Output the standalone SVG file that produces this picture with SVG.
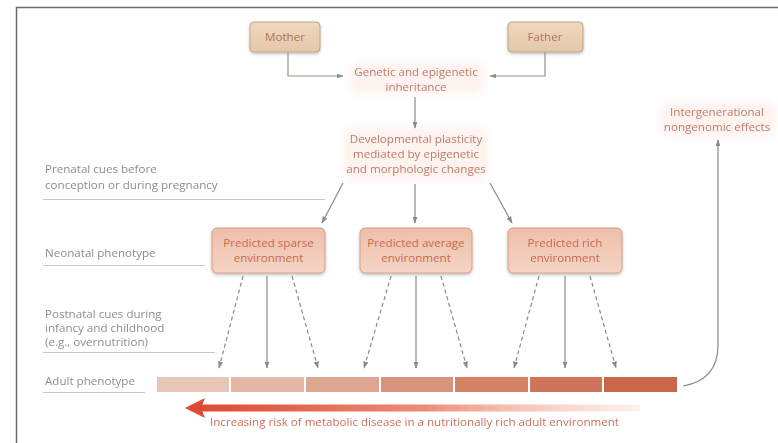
<svg xmlns="http://www.w3.org/2000/svg" width="778" height="443" viewBox="0 0 778 443">
<defs>
<linearGradient id="gParent" x1="0" y1="0" x2="0" y2="1"><stop offset="0" stop-color="#efd8bc"/><stop offset="1" stop-color="#e4c8a8"/></linearGradient>
<linearGradient id="gEnv" x1="0" y1="0" x2="0" y2="1"><stop offset="0" stop-color="#eebfaa"/><stop offset="1" stop-color="#f5d4c4"/></linearGradient>
<linearGradient id="gRisk" x1="0" y1="0" x2="1" y2="0"><stop offset="0" stop-color="#de4a34"/><stop offset="0.5" stop-color="#ec8a76"/><stop offset="1" stop-color="#fbe3dc" stop-opacity="0.5"/></linearGradient>
<filter id="sh" x="-20%" y="-20%" width="140%" height="150%"><feDropShadow dx="0" dy="1.5" stdDeviation="1.5" flood-color="#000" flood-opacity="0.25"/></filter>
<filter id="glow" x="-20%" y="-40%" width="140%" height="180%"><feGaussianBlur stdDeviation="4"/></filter>
<marker id="ah" viewBox="0 0 10 10" refX="9" refY="5" markerWidth="6" markerHeight="6" orient="auto-start-reverse"><path d="M0,1.5 L10,5 L0,8.5 Z" fill="#8a8a8a"/></marker>
<marker id="ahg" viewBox="0 0 10 10" refX="9" refY="5" markerWidth="6" markerHeight="6" orient="auto"><path d="M0,1.5 L10,5 L0,8.5 Z" fill="#8a9a80"/></marker>
</defs>
<style>
text{font-family:"Open Sans","DejaVu Sans",sans-serif;font-size:11.6px;}
.lbl{fill:#8e8e8e;}
.mid{fill:#c27a6c;text-anchor:middle;}
.pt{fill:#b3725f;text-anchor:middle;}
.et{fill:#c86a50;text-anchor:middle;}
.ul{stroke:#c8c8c8;stroke-width:1;}
.ln{stroke:#8a8a8a;stroke-width:1.2;fill:none;}
.dash{stroke-dasharray:4,3;}
.pg{stroke:#8a9a80;stroke-width:1.2;fill:none;}
.pbox{fill:url(#gParent);stroke:#b9a78f;stroke-width:1;}
.ebox{fill:url(#gEnv);stroke:#d59c86;stroke-width:1;}
.halo{fill:#fcebe5;opacity:0.6;}
</style>
<rect x="0" y="0" width="778" height="443" fill="#ffffff"/>
<path d="M16.5,443 V7.5 H778" fill="none" stroke="#6a6a6a" stroke-width="1.5"/>

<g id="halos" filter="url(#glow)">
<rect class="halo" x="350" y="62" width="134" height="32" rx="8"/>
<rect class="halo" x="343" y="128" width="146" height="52" rx="8"/>
<rect class="halo" x="660" y="102" width="116" height="34" rx="8"/>
</g>

<g id="mother"><rect class="pbox" x="250" y="22" width="70" height="30" rx="4" filter="url(#sh)"/><text class="pt" x="285" y="41">Mother</text></g>
<g id="father"><rect class="pbox" x="508" y="22" width="75" height="30" rx="4" filter="url(#sh)"/><text class="pt" x="545" y="41">Father</text></g>

<g id="inheritance"><text class="mid" x="416" y="76">Genetic and epigenetic</text><text class="mid" x="416" y="91">inheritance</text></g>
<g id="plasticity"><text class="mid" x="416" y="143">Developmental plasticity</text><text class="mid" x="416" y="158">mediated by epigenetic</text><text class="mid" x="416" y="173">and morphologic changes</text></g>
<g id="intergen"><text class="mid" x="717" y="116">Intergenerational</text><text class="mid" x="717" y="131">nongenomic effects</text></g>

<g id="sparse"><rect class="ebox" x="212" y="228" width="113" height="45" rx="5" filter="url(#sh)"/><text class="et" x="268.5" y="247">Predicted sparse</text><text class="et" x="268.5" y="262">environment</text></g>
<g id="average"><rect class="ebox" x="360" y="228" width="112" height="45" rx="5" filter="url(#sh)"/><text class="et" x="416" y="247">Predicted average</text><text class="et" x="416" y="262">environment</text></g>
<g id="rich"><rect class="ebox" x="508" y="228" width="114" height="45" rx="5" filter="url(#sh)"/><text class="et" x="565" y="247">Predicted rich</text><text class="et" x="565" y="262">environment</text></g>

<g id="labels">
<text class="lbl" x="45" y="173">Prenatal cues before</text>
<text class="lbl" x="45" y="189">conception or during pregnancy</text>
<line class="ul" x1="43" y1="199.5" x2="325" y2="199.5"/>
<text class="lbl" x="45" y="257">Neonatal phenotype</text>
<line class="ul" x1="43" y1="265.5" x2="205" y2="265.5"/>
<text class="lbl" x="45" y="318">Postnatal cues during</text>
<text class="lbl" x="45" y="332">infancy and childhood</text>
<text class="lbl" x="45" y="346">(e.g., overnutrition)</text>
<line class="ul" x1="43" y1="352.5" x2="215" y2="352.5"/>
<text class="lbl" x="45" y="385">Adult phenotype</text>
<line class="ul" x1="43" y1="392.5" x2="145" y2="392.5"/>
</g>

<g id="adult-bar">
<rect x="157" y="377" width="72" height="15" fill="#e9c7b8"/>
<rect x="231" y="377" width="73" height="15" fill="#e4b7a5"/>
<rect x="306" y="377" width="73" height="15" fill="#dea591"/>
<rect x="381" y="377" width="72" height="15" fill="#d8937c"/>
<rect x="455" y="377" width="73" height="15" fill="#d48369"/>
<rect x="530" y="377" width="72" height="15" fill="#cf7559"/>
<rect x="604" y="377" width="73" height="15" fill="#c9674a"/>
</g>

<g id="risk">
<path d="M200,404.5 H640 V411.5 H200 Z" fill="url(#gRisk)"/>
<path d="M185,408 L205,398 L201,408 L205,418 Z" fill="#de4a34"/>
<text x="210" y="426" fill="#d0705a">Increasing risk of metabolic disease in a nutritionally rich adult environment</text>
</g>

<g id="connectors">
<path class="pg" d="M288,52 V76 H343" marker-end="url(#ahg)"/>
<path class="pg" d="M545,52 V76 H490" marker-end="url(#ahg)"/>
<line class="ln" x1="415" y1="97" x2="415" y2="128" marker-end="url(#ah)"/>
<line class="ln" x1="343" y1="183" x2="322" y2="223" marker-end="url(#ah)"/>
<line class="ln" x1="415" y1="184" x2="415" y2="223" marker-end="url(#ah)"/>
<line class="ln" x1="490" y1="183" x2="512" y2="223" marker-end="url(#ah)"/>

<line class="ln dash" x1="243" y1="276" x2="219" y2="368" marker-end="url(#ah)"/>
<line class="ln" x1="267" y1="276" x2="267" y2="368" marker-end="url(#ah)"/>
<line class="ln dash" x1="292" y1="276" x2="318" y2="368" marker-end="url(#ah)"/>
<line class="ln dash" x1="391" y1="276" x2="364" y2="368" marker-end="url(#ah)"/>
<line class="ln" x1="416" y1="276" x2="416" y2="368" marker-end="url(#ah)"/>
<line class="ln dash" x1="441" y1="276" x2="467" y2="368" marker-end="url(#ah)"/>
<line class="ln dash" x1="539" y1="276" x2="514" y2="368" marker-end="url(#ah)"/>
<line class="ln" x1="565" y1="276" x2="565" y2="368" marker-end="url(#ah)"/>
<line class="ln dash" x1="590" y1="276" x2="616" y2="368" marker-end="url(#ah)"/>

<path class="ln" d="M683,386 Q718,380 718,345 V140" marker-end="url(#ah)"/>
</g>
</svg>
